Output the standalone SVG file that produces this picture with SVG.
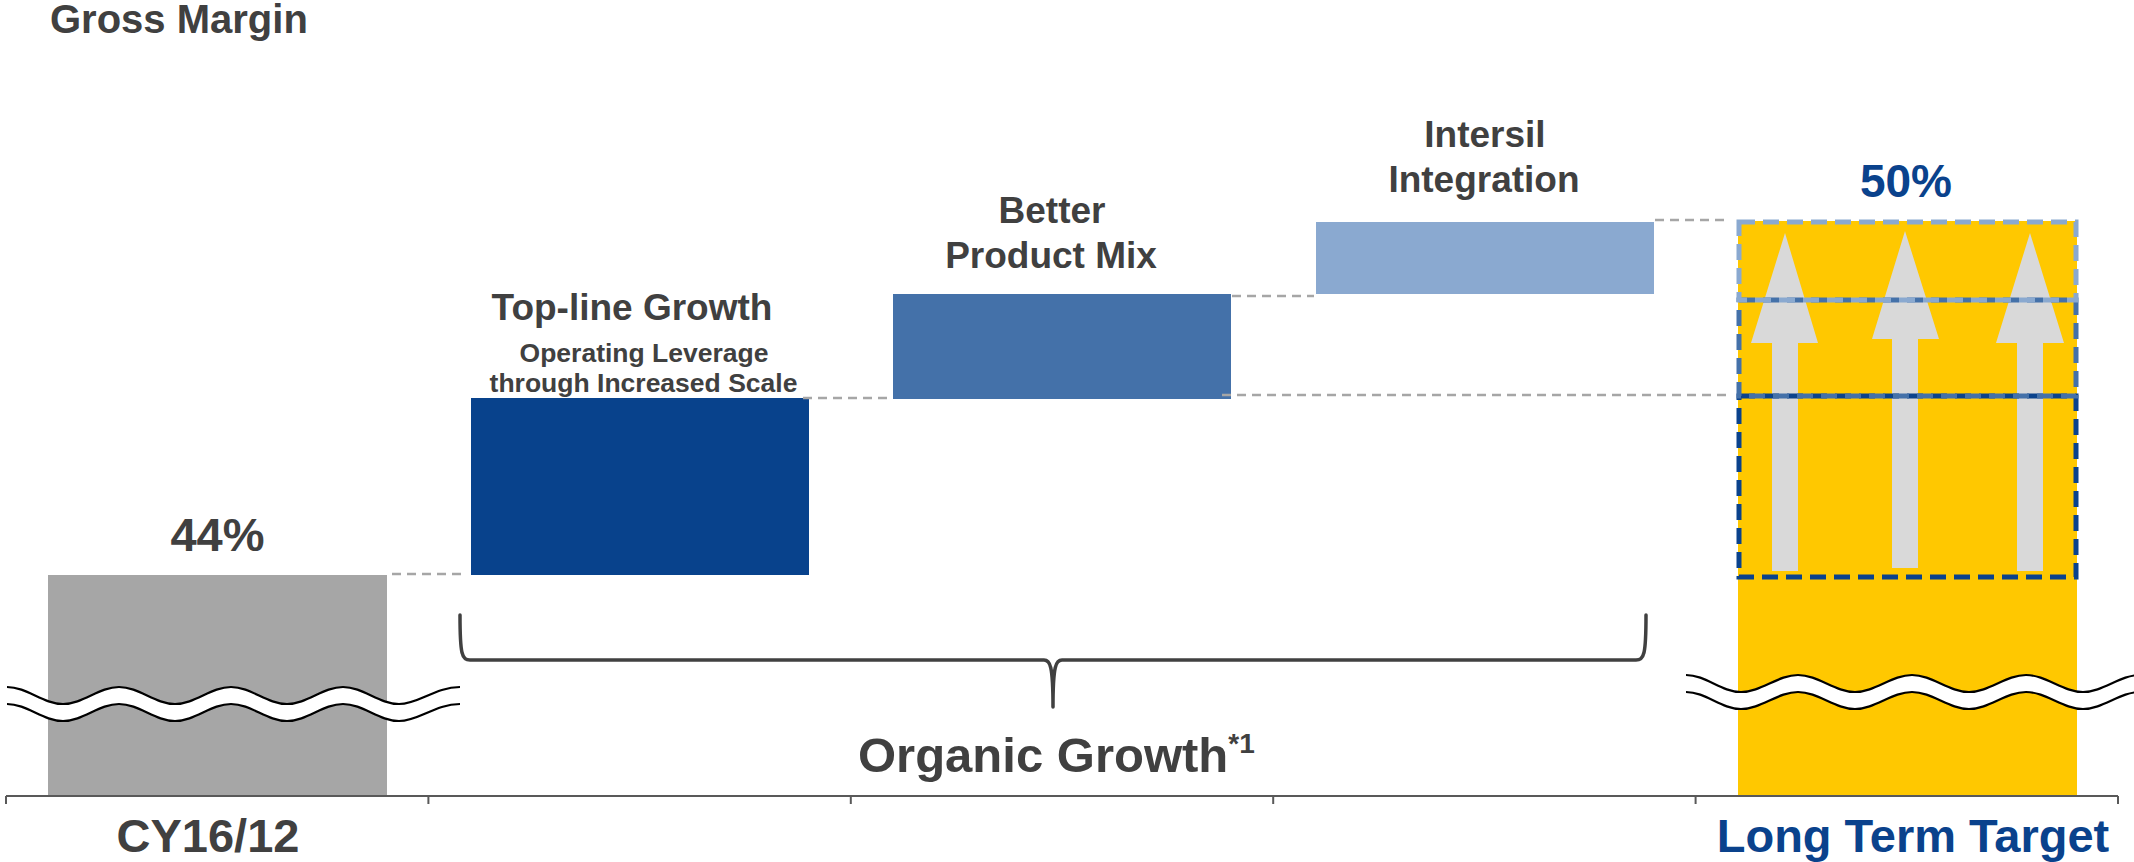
<svg xmlns="http://www.w3.org/2000/svg" width="2134" height="862" viewBox="0 0 2134 862">
<style>
text{font-family:"Liberation Sans",Arial,sans-serif;font-weight:bold;fill:#404040}
.c{text-anchor:middle}
.blue{fill:#0A428C}
.conn{stroke:#A6A6A6;stroke-width:2.5;stroke-dasharray:9 6;fill:none}
.wave{fill:none;stroke:#000;stroke-width:2.2}
.box{fill:none;stroke-width:5;stroke-dasharray:16 8}
.arrow{fill:#D9D9D9}
</style>
<rect width="2134" height="862" fill="#fff"/>
<text x="50" y="33" font-size="40">Gross Margin</text>

<g id="bar-cy16">
<rect x="48" y="575" width="339" height="221" fill="#A6A6A6"/>
<text class="c" x="217.5" y="551" font-size="47">44%</text>
</g>

<g id="bar-topline">
<rect x="471" y="398" width="338" height="177" fill="#08428C"/>
<text class="c" x="632" y="320" font-size="37">Top-line Growth</text>
<text class="c" x="644" y="362" font-size="26.5">Operating Leverage</text>
<text class="c" x="643.5" y="392" font-size="26.5">through Increased Scale</text>
</g>

<g id="bar-productmix">
<rect x="893" y="294" width="338" height="105" fill="#4471A9"/>
<text class="c" x="1052" y="223" font-size="37">Better</text>
<text class="c" x="1051" y="268" font-size="37">Product Mix</text>
</g>

<g id="bar-intersil">
<rect x="1316" y="222" width="338" height="72" fill="#8AA9D0"/>
<text class="c" x="1485" y="147" font-size="37">Intersil</text>
<text class="c" x="1484" y="192" font-size="37">Integration</text>
</g>

<g id="bar-target">
<rect x="1738" y="221" width="339" height="575" fill="#FFC800"/>
<polygon class="arrow" points="1785,233 1818,343 1798,343 1798,571 1772,571 1772,343 1751,343"/>
<polygon class="arrow" points="1905,231 1939,339 1918,339 1918,568 1892,568 1892,339 1872,339"/>
<polygon class="arrow" points="2030,233 2064,343 2043,343 2043,571 2017,571 2017,343 1996,343"/>
<rect class="box" x="1739" y="396" width="337" height="181" stroke="#0A428C"/>
<rect class="box" x="1739" y="300" width="337" height="96" stroke="#4471A9"/>
<rect class="box" x="1739" y="222" width="337" height="78" stroke="#8AA9D0"/>
<text class="c blue" x="1906" y="197" font-size="46">50%</text>
</g>

<g id="connectors">
<line class="conn" x1="392" y1="574" x2="466" y2="574"/>
<line class="conn" x1="803" y1="398" x2="892" y2="398"/>
<line class="conn" x1="1232" y1="296" x2="1314" y2="296"/>
<line class="conn" x1="1655" y1="220" x2="1727" y2="220"/>
<line class="conn" x1="1222" y1="395" x2="1727" y2="395"/>
</g>

<g id="breaks">
<path d="M7,687 C27,687 43,704 63,704 S99,687 119,687 S155,704 175,704 S211,687 231,687 S267,704 287,704 S323,687 343,687 S379,704 399,704 S435,687 460,687 L460,704 C435,704 419,721 399,721 S363,704 343,704 S307,721 287,721 S251,704 231,704 S195,721 175,721 S139,704 119,704 S83,721 63,721 S27,704 7,704 Z" fill="#fff"/>
<path class="wave" d="M7,687 C27,687 43,704 63,704 S99,687 119,687 S155,704 175,704 S211,687 231,687 S267,704 287,704 S323,687 343,687 S379,704 399,704 S435,687 460,687"/>
<path class="wave" d="M7,704 C27,704 43,721 63,721 S99,704 119,704 S155,721 175,721 S211,704 231,704 S267,721 287,721 S323,704 343,704 S379,721 399,721 S435,704 460,704"/>
<path d="M1686,675 C1706,675 1721,692 1741,692 S1778,675 1798,675 S1835,692 1855,692 S1892,675 1912,675 S1949,692 1969,692 S2006,675 2026,675 S2063,692 2083,692 S2120,675 2140,675 L2140,692 C2120,692 2103,709 2083,709 S2046,692 2026,692 S1989,709 1969,709 S1932,692 1912,692 S1875,709 1855,709 S1818,692 1798,692 S1761,709 1741,709 S1706,692 1686,692 Z" fill="#fff"/>
<path class="wave" d="M1686,675 C1706,675 1721,692 1741,692 S1778,675 1798,675 S1835,692 1855,692 S1892,675 1912,675 S1949,692 1969,692 S2006,675 2026,675 S2063,692 2083,692 S2120,675 2140,675"/>
<path class="wave" d="M1686,692 C1706,692 1721,709 1741,709 S1778,692 1798,692 S1835,709 1855,709 S1892,692 1912,692 S1949,709 1969,709 S2006,692 2026,692 S2063,709 2083,709 S2120,692 2140,692"/>
</g>

<g id="brace">
<path d="M460,615 C460,655 462,660 470,660 L1044,660 C1050,660 1053,665 1053,707 C1053,665 1056,660 1062,660 L1636,660 C1644,660 1646,655 1646,615" fill="none" stroke="#404040" stroke-width="3.5" stroke-linecap="round" stroke-linejoin="round"/>
<text x="858" y="772" font-size="49">Organic Growth<tspan font-size="28" dy="-19">*1</tspan></text>
</g>

<g id="axis" stroke="#595959" stroke-width="2" fill="none">
<line x1="6" y1="796" x2="2118" y2="796"/>
<line x1="6" y1="796" x2="6" y2="804"/>
<line x1="428.4" y1="796" x2="428.4" y2="804"/>
<line x1="850.8" y1="796" x2="850.8" y2="804"/>
<line x1="1273.2" y1="796" x2="1273.2" y2="804"/>
<line x1="1695.6" y1="796" x2="1695.6" y2="804"/>
<line x1="2118" y1="796" x2="2118" y2="804"/>
</g>

<text class="c" x="208" y="852" font-size="47">CY16/12</text>
<text class="c blue" x="1913" y="852" font-size="47">Long Term Target</text>
</svg>
